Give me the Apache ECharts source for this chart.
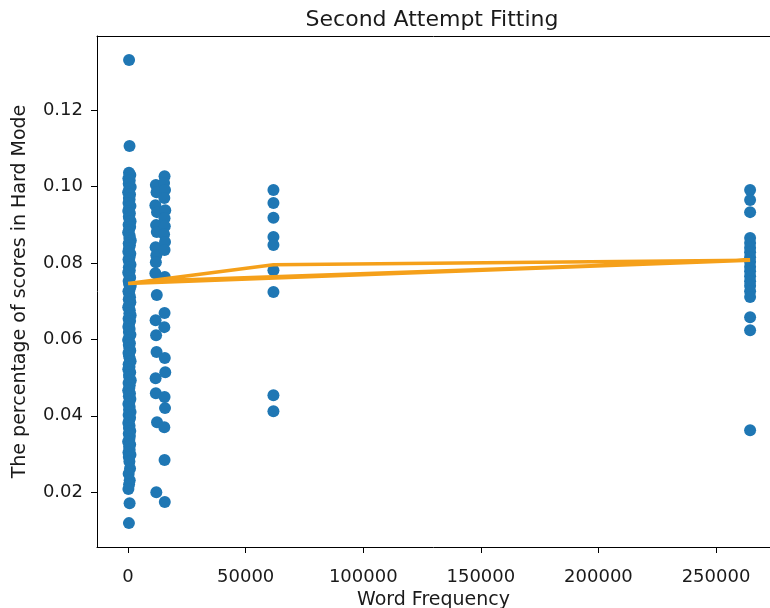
<!DOCTYPE html>
<html><head><meta charset="utf-8">
<script src="https://cdn.jsdelivr.net/npm/echarts@6/dist/echarts.min.js"></script>
<style>html,body{margin:0;padding:0;background:#fff}#c{width:770px;height:608px}</style>
</head><body><div id="c"></div>
<script>
// [word frequency, share of hard-mode scores]
const rareWords = [[420,0.1331],[610,0.1106],
[380,0.1036],[950,0.1030],[120,0.1021],[700,0.1016],[260,0.1007],[1100,0.0999],[510,0.0994],[30,0.0985],[830,0.0979],[340,0.0970],[640,0.0966],[180,0.0957],[990,0.0949],[450,0.0945],[70,0.0936],[760,0.0930],[300,0.0921],[560,0.0916],[1050,0.0909],[210,0.0900],[880,0.0895],[400,0.0886],[15,0.0880],[690,0.0871],[520,0.0865],[1150,0.0859],[250,0.0851],[780,0.0846],[360,0.0838],[90,0.0829],[940,0.0824],[600,0.0815],[170,0.0809],[470,0.0803],[1020,0.0795],[320,0.0789],[730,0.0780],[50,0.0775],[590,0.0766],[860,0.0761],[230,0.0753],[410,0.0745],[1120,0.0740],[670,0.0731],[140,0.0726],[500,0.0718],[820,0.0710],[280,0.0705],[960,0.0697],[380,0.0689],[60,0.0684],[710,0.0676],[540,0.0668],[1080,0.0663],[200,0.0654],[850,0.0648],[440,0.0641],[110,0.0633],[650,0.0627],[330,0.0619],[1000,0.0612],[480,0.0606],[20,0.0598],[770,0.0590],[290,0.0585],[580,0.0577],[920,0.0570],[160,0.0564],[430,0.0556],[740,0.0549],[1060,0.0543],[240,0.0535],[610,0.0528],[80,0.0522],[890,0.0514],[370,0.0507],[530,0.0501],[1130,0.0493],[190,0.0486],[700,0.0480],[460,0.0472],[40,0.0466],[810,0.0458],[310,0.0451],[980,0.0444],[570,0.0437],[130,0.0431],[680,0.0423],[390,0.0416],[1040,0.0410],[220,0.0402],[840,0.0395],[490,0.0389],[100,0.0381],[620,0.0374],[350,0.0368],[930,0.0360],[270,0.0353],[750,0.0347],[550,0.0339],[10,0.0332],[870,0.0325],[420,0.0319],[660,0.0311],[150,0.0304],[1010,0.0298],[300,0.0292],
[560,0.0280],[820,0.0262],[240,0.0248],[690,0.0231],[410,0.0220],[130,0.0208],[640,0.0171],[350,0.0119]];
const freq12k = [[11800,0.1004],[12100,0.0985],[11600,0.0951],[12300,0.0933],[11900,0.0899],[12200,0.0881],[11700,0.0841],[12000,0.0820],[11800,0.0802],[11600,0.0773],[12200,0.0716],[11700,0.0650],[11900,0.0611],[12100,0.0567],[11700,0.0498],[11800,0.0459],[12300,0.0383],[12000,0.0200]];
const freq16k = [[15500,0.1027],[15300,0.1009],[15700,0.0991],[15400,0.0970],[15800,0.0938],[15500,0.0917],[15600,0.0896],[15300,0.0875],[15700,0.0855],[15500,0.0834],[15600,0.0763],[15500,0.0669],[15400,0.0632],[15600,0.0551],[15800,0.0514],[15500,0.0449],[15700,0.0420],[15400,0.0370],[15500,0.0284],[15600,0.0174]];
const freq62k = [[61800,0.0991],[61800,0.0957],[61800,0.0918],[61800,0.0868],[61800,0.0847],[61800,0.0781],[61800,0.0724],[61800,0.0454],[61800,0.0412]];
const freq265k = [[264500,0.0991],[264500,0.0965],[264500,0.0933],[264500,0.0865],[264500,0.0852],[264500,0.0840],[264500,0.0828],[264500,0.0815],[264500,0.0803],[264500,0.0790],[264500,0.0778],[264500,0.0765],[264500,0.0752],[264500,0.0740],[264500,0.0726],[264500,0.0711],[264500,0.0658],[264500,0.0624],[264500,0.0362]];
// fitted curve, drawn in the data order (vertices of the orange path)
const fitFreq  = [0, 61800, 264500, 15500, 0, 264500, 11800, 700];
const fitValue = [0.0746, 0.0795, 0.0807, 0.0754, 0.0746, 0.0807, 0.0752, 0.0746];
const xName = 'Word Frequency';
const yName = 'The percentage of scores in Hard Mode';

const points = [].concat(rareWords, freq12k, freq16k, freq62k, freq265k);
const fitPath = fitFreq.map((f, i) => [f, fitValue[i]]);

const chart = echarts.init(document.getElementById('c'));
const txt = '#1a1a1a';
const font = 'DejaVu Sans';
const X_MIN = -13225, X_MAX = 272960;
chart.setOption({
  animation: false,
  backgroundColor: '#fff',
  title: { text: 'Second Attempt Fitting', left: 427, top: 4, textAlign: 'center',
    textStyle: { fontFamily: font, fontSize: 22, fontWeight: 'normal', color: txt } },
  grid: { left: 97, top: 36, right: 0, bottom: 61, show: false, containLabel: false, outerBoundsMode: 'none' },
  xAxis: [{
    type: 'value', min: X_MIN, max: X_MAX, minInterval: 50000, maxInterval: 50000,
    name: xName, nameLocation: 'middle', nameGap: 39,
    nameTextStyle: { fontFamily: font, fontSize: 19, color: txt },
    axisLine: { show: true, onZero: false, lineStyle: { color: '#000' } },
    axisTick: { show: true, length: 6, lineStyle: { color: '#000' } },
    axisLabel: { fontFamily: font, fontSize: 18, color: txt, margin: 21, showMinLabel: false, showMaxLabel: false,
      formatter: v => String(v) },
    splitLine: { show: false }
  }, {
    type: 'value', position: 'top', min: X_MIN, max: X_MAX,
    axisLine: { show: true, onZero: false, lineStyle: { color: '#000' } },
    axisTick: { show: false }, axisLabel: { show: false }, splitLine: { show: false }
  }],
  yAxis: {
    type: 'value', min: 0.00565, max: 0.1394, minInterval: 0.02, maxInterval: 0.02,
    name: yName, nameLocation: 'middle', nameGap: 67, nameRotate: 90,
    nameTextStyle: { fontFamily: font, fontSize: 19, color: txt },
    axisLine: { show: true, onZero: false, lineStyle: { color: '#000' } },
    axisTick: { show: true, length: 6, lineStyle: { color: '#000' } },
    axisLabel: { fontFamily: font, fontSize: 18, color: txt, margin: 14, showMinLabel: false, showMaxLabel: false,
      formatter: v => v.toFixed(2) },
    splitLine: { show: false }
  },
  series: [
    { type: 'scatter', data: points, symbol: 'circle', symbolSize: 12,
      itemStyle: { color: '#1f77b4', opacity: 1 }, z: 2 },
    { type: 'line', data: fitPath, showSymbol: false, symbol: 'none',
      lineStyle: { color: '#f5a01a', width: 3.5 }, z: 3 }
  ]
});
</script></body></html>
